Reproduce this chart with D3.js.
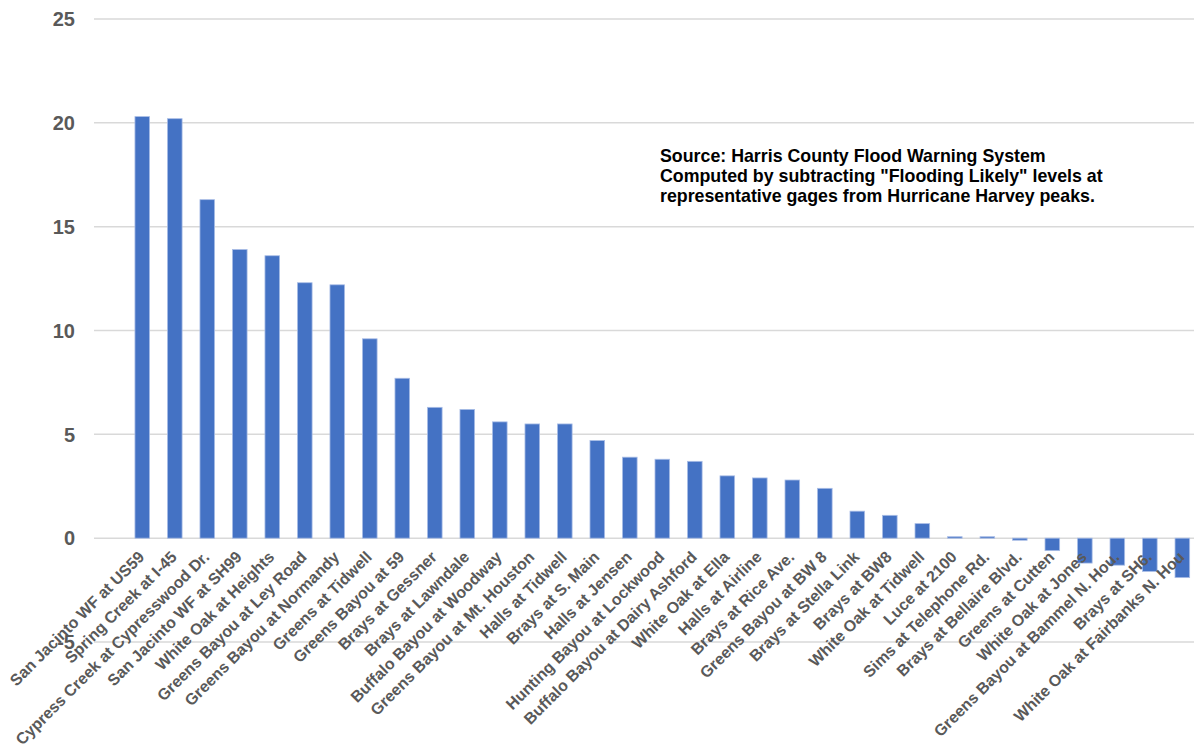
<!DOCTYPE html>
<head>
  <meta charset="utf-8">
  <script src="https://d3js.org/d3.v7.min.js"></script>
  <style>
    body { margin:0; background:#fff; }
    text { font-family: "Liberation Sans", Arial, sans-serif; font-weight: bold; }
  </style>
</head>
<body>
  <script>
    // gage names, in the order they appear along the axis
    var gages = [
      "San Jacinto WF at US59", "Spring Creek at I-45", "Cypress Creek at Cypresswood Dr.",
      "San Jacinto WF at SH99", "White Oak at Heights", "Greens Bayou at Ley Road",
      "Greens Bayou at Normandy", "Greens at Tidwell", "Greens Bayou at 59",
      "Brays at Gessner", "Brays at Lawndale", "Buffalo Bayou at Woodway",
      "Greens Bayou at Mt. Houston", "Halls at Tidwell", "Brays at S. Main",
      "Halls at Jensen", "Hunting Bayou at Lockwood", "Buffalo Bayou at Dairy Ashford",
      "White Oak at Ella", "Halls at Airline", "Brays at Rice Ave.",
      "Greens Bayou at BW 8", "Brays at Stella Link", "Brays at BW8",
      "White Oak at Tidwell", "Luce at 2100", "Sims at Telephone Rd.",
      "Brays at Bellaire Blvd.", "Greens at Cutten", "White Oak at Jones",
      "Greens Bayou at Bammel N. Hou.", "Brays at SH6.", "White Oak at Fairbanks N. Hou"
    ];

    // Harvey peak minus "Flooding Likely" level (ft)
    var overFlood = [
      20.3, 20.2, 16.3, 13.9, 13.6, 12.3, 12.2, 9.6, 7.7, 6.3, 6.2, 5.6,
      5.5, 5.5, 4.7, 3.9, 3.8, 3.7, 3.0, 2.9, 2.8, 2.4, 1.3, 1.1,
      0.7, 0.07, 0.07, -0.1, -0.6, -1.2, -1.3, -1.6, -1.9
    ];

    var yTicks = [-5, 0, 5, 10, 15, 20, 25];

    var note = [
      "Source: Harris County Flood Warning System",
      "Computed by subtracting \"Flooding Likely\" levels at",
      "representative gages from Hurricane Harvey peaks."
    ];

    var width = 1194, height = 744;

    var svg = d3.select("body").append("svg")
      .attr("width", width)
      .attr("height", height);

    var x = d3.scaleBand()
      .domain(gages)
      .range([94, 1230.6])
      .paddingInner(0.55)
      .paddingOuter(1.26);

    var y = d3.scaleLinear()
      .domain([-5, 25])
      .range([642, 19]);

    // grid lines
    svg.selectAll("line.grid").data(yTicks).enter()
      .append("line")
      .attr("class", "grid")
      .attr("x1", 94)
      .attr("x2", 1230)
      .attr("y1", function(d) { return y(d); })
      .attr("y2", function(d) { return y(d); })
      .style("stroke", "#d9d9d9")
      .style("stroke-width", 1.5);

    svg.selectAll("text.ytick").data(yTicks).enter()
      .append("text")
      .attr("class", "ytick")
      .attr("x", 75)
      .attr("y", function(d) { return y(d); })
      .attr("dy", "0.36em")
      .attr("text-anchor", "end")
      .style("font-size", "20px")
      .style("fill", "#595959")
      .text(function(d) { return d; });

    // bars
    var data = gages.map(function(g, i) { return {name: g, value: overFlood[i]}; });

    svg.selectAll("rect.bar").data(data).enter()
      .append("rect")
      .attr("class", "bar")
      .attr("x", function(d) { return x(d.name); })
      .attr("width", x.bandwidth())
      .attr("y", function(d) { return y(Math.max(0, d.value)); })
      .attr("height", function(d) { return Math.abs(y(d.value) - y(0)); })
      .style("fill", "#4472c4")
      .style("stroke", "#a9bde6")
      .style("stroke-width", 0.8);

    // rotated category labels
    svg.selectAll("text.xlab").data(gages).enter()
      .append("text")
      .attr("class", "xlab")
      .attr("text-anchor", "end")
      .attr("transform", function(d) {
        return "translate(" + (x(d) + x.bandwidth() / 2 + 3) + ",558) rotate(-45)";
      })
      .style("font-size", "16px")
      .style("fill", "#595959")
      .text(function(d) { return d; });

    // source note
    svg.append("text")
      .attr("x", 660)
      .attr("y", 162)
      .style("font-size", "17.8px")
      .style("fill", "#000")
      .selectAll("tspan").data(note).enter()
      .append("tspan")
      .attr("x", 660)
      .attr("dy", function(d, i) { return i ? 20 : 0; })
      .text(function(d) { return d; });
  </script>
</body>
